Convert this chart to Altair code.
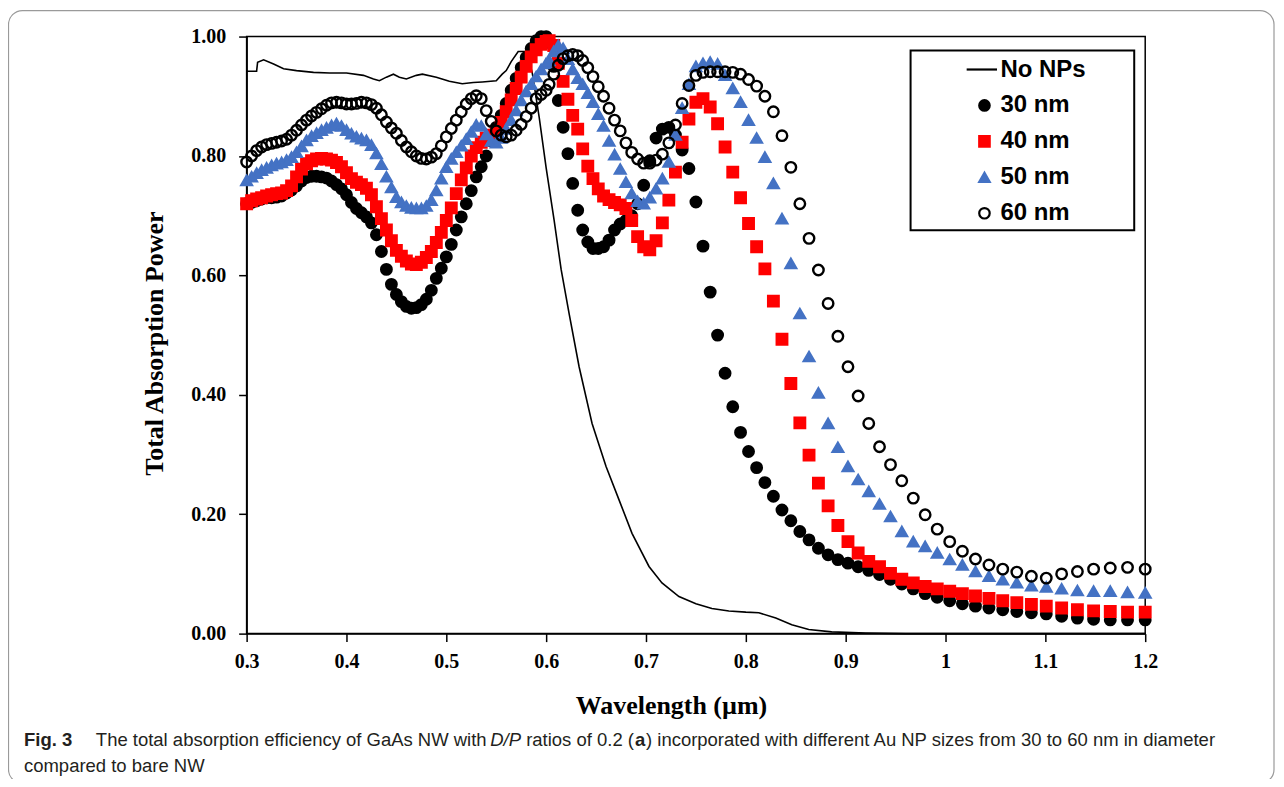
import altair as alt
import pandas as pd

# ---------------- data ----------------
series_names = ["No NPs", "30 nm", "40 nm", "50 nm", "60 nm"]
# legend/marker shapes; the "No NPs" entry is a long horizontal stroke
shape_range = ["M-3.4,0H2.4", "circle", "square", "triangle-up", "circle"]
fill_range = ["black", "black", "#ff0000", "#4472c4", "transparent"]
stroke_range = ["black", "black", "#ff0000", "#4472c4", "black"]

# shared wavelength samples (um) of the simulated spectra
wl_short = [0.300, 0.305, 0.310, 0.315, 0.320, 0.325, 0.330, 0.335, 0.340, 0.345,
            0.350, 0.355, 0.360, 0.365, 0.370, 0.375, 0.380, 0.385, 0.390, 0.395,
            0.400, 0.405, 0.410, 0.415, 0.420, 0.425, 0.430, 0.435, 0.440, 0.445,
            0.450, 0.455, 0.460, 0.465, 0.470, 0.475, 0.480, 0.485, 0.490, 0.495,
            0.500, 0.505, 0.510, 0.515, 0.520, 0.525, 0.530, 0.535, 0.540, 0.545,
            0.550, 0.555, 0.560, 0.565, 0.570, 0.575, 0.580, 0.585, 0.590, 0.595,
            0.600]
wl_long = [0.6030, 0.6076, 0.6122, 0.6170, 0.6218, 0.6266, 0.6316, 0.6366, 0.6417, 0.6469,
           0.6522, 0.6575, 0.6630, 0.6685, 0.6742, 0.6799, 0.6857, 0.6916, 0.6977, 0.7038,
           0.7101, 0.7164, 0.7229, 0.7295, 0.7362, 0.7430, 0.7500, 0.7571, 0.7643, 0.7717,
           0.7792, 0.7869, 0.7947, 0.8027, 0.8108, 0.8191, 0.8276, 0.8362, 0.8451, 0.8541,
           0.8633, 0.8727, 0.8824, 0.8922, 0.9023, 0.9125, 0.9231, 0.9339, 0.9449, 0.9562,
           0.9677, 0.9796, 0.9917, 1.0042, 1.0169, 1.0300, 1.0435, 1.0573, 1.0714, 1.0860,
           1.1009, 1.1163, 1.1321, 1.1483, 1.1650, 1.1823, 1.2000]

nm30_short = [0.720, 0.722, 0.725, 0.728, 0.730, 0.730, 0.731, 0.733, 0.738, 0.743,
              0.750, 0.758, 0.764, 0.766, 0.766, 0.765, 0.763, 0.758, 0.752, 0.745,
              0.735, 0.722, 0.712, 0.705, 0.698, 0.688, 0.668, 0.640, 0.610, 0.585,
              0.568, 0.556, 0.548, 0.545, 0.546, 0.551, 0.560, 0.575, 0.595, 0.612,
              0.631, 0.652, 0.676, 0.698, 0.720, 0.742, 0.765, 0.782, 0.800, 0.825,
              0.848, 0.868, 0.888, 0.910, 0.930, 0.948, 0.965, 0.980, 0.993, 1.000,
              1.000]
nm30_long = [0.990, 0.950, 0.893, 0.848, 0.804, 0.754, 0.709, 0.676, 0.656, 0.645,
             0.645, 0.648, 0.659, 0.676, 0.686, 0.692, 0.700, 0.720, 0.751, 0.792,
             0.830, 0.845, 0.848, 0.835, 0.810, 0.779, 0.723, 0.649, 0.572, 0.500,
             0.436, 0.380, 0.337, 0.305, 0.278, 0.253, 0.230, 0.207, 0.189, 0.171,
             0.157, 0.143, 0.132, 0.124, 0.118, 0.112, 0.106, 0.099, 0.091, 0.083,
             0.075, 0.067, 0.061, 0.055, 0.050, 0.046, 0.043, 0.040, 0.037, 0.035,
             0.033, 0.029, 0.026, 0.024, 0.023, 0.023, 0.023]

nm40_short = [0.720, 0.725, 0.728, 0.730, 0.733, 0.735, 0.737, 0.738, 0.742, 0.750,
              0.765, 0.778, 0.787, 0.792, 0.795, 0.796, 0.795, 0.793, 0.789, 0.782,
              0.772, 0.762, 0.756, 0.752, 0.746, 0.735, 0.715, 0.695, 0.676, 0.658,
              0.642, 0.632, 0.624, 0.619, 0.618, 0.622, 0.630, 0.640, 0.655, 0.672,
              0.692, 0.713, 0.737, 0.760, 0.780, 0.800, 0.814, 0.823, 0.830, 0.835,
              0.838, 0.856, 0.874, 0.894, 0.913, 0.932, 0.950, 0.966, 0.978, 0.987,
              0.992]
nm40_long = [0.993, 0.985, 0.955, 0.925, 0.895, 0.868, 0.845, 0.812, 0.783, 0.762,
             0.745, 0.733, 0.727, 0.722, 0.718, 0.712, 0.692, 0.665, 0.648, 0.643,
             0.658, 0.688, 0.726, 0.773, 0.823, 0.862, 0.890, 0.896, 0.882, 0.854,
             0.815, 0.773, 0.730, 0.687, 0.648, 0.611, 0.557, 0.493, 0.419, 0.353,
             0.299, 0.252, 0.214, 0.181, 0.154, 0.135, 0.121, 0.112, 0.101, 0.091,
             0.085, 0.079, 0.075, 0.071, 0.067, 0.063, 0.059, 0.055, 0.052, 0.049,
             0.046, 0.043, 0.040, 0.038, 0.037, 0.036, 0.036]

nm50_short = [0.759, 0.765, 0.771, 0.776, 0.780, 0.784, 0.787, 0.789, 0.793, 0.798,
              0.806, 0.816, 0.826, 0.833, 0.838, 0.843, 0.847, 0.851, 0.854, 0.850,
              0.843, 0.837, 0.832, 0.829, 0.826, 0.818, 0.804, 0.786, 0.765, 0.747,
              0.731, 0.722, 0.716, 0.713, 0.712, 0.712, 0.716, 0.726, 0.742, 0.762,
              0.781, 0.795, 0.806, 0.817, 0.828, 0.840, 0.852, 0.850, 0.836, 0.825,
              0.822, 0.830, 0.845, 0.860, 0.876, 0.893, 0.908, 0.920, 0.933, 0.945,
              0.955]
nm50_long = [0.960, 0.975, 0.985, 0.980, 0.962, 0.945, 0.930, 0.920, 0.905, 0.890,
             0.870, 0.850, 0.825, 0.802, 0.778, 0.756, 0.737, 0.724, 0.720, 0.730,
             0.745, 0.762, 0.790, 0.835, 0.880, 0.920, 0.950, 0.955, 0.957, 0.954,
             0.935, 0.913, 0.890, 0.860, 0.830, 0.798, 0.754, 0.695, 0.620, 0.536,
             0.464, 0.403, 0.352, 0.312, 0.280, 0.258, 0.238, 0.217, 0.196, 0.171,
             0.154, 0.146, 0.135, 0.124, 0.115, 0.104, 0.096, 0.090, 0.085, 0.080,
             0.078, 0.075, 0.072, 0.071, 0.071, 0.069, 0.068]

nm60_short = [0.790, 0.800, 0.809, 0.815, 0.819, 0.821, 0.823, 0.825, 0.828, 0.835,
              0.843, 0.852, 0.860, 0.867, 0.873, 0.879, 0.885, 0.889, 0.890, 0.889,
              0.887, 0.887, 0.888, 0.890, 0.889, 0.886, 0.880, 0.869, 0.857, 0.847,
              0.838, 0.826, 0.815, 0.807, 0.800, 0.796, 0.795, 0.798, 0.804, 0.817,
              0.832, 0.846, 0.860, 0.874, 0.887, 0.896, 0.901, 0.896, 0.876, 0.858,
              0.842, 0.835, 0.832, 0.835, 0.843, 0.853, 0.866, 0.880, 0.896, 0.903,
              0.910]
nm60_long = [0.920, 0.937, 0.952, 0.963, 0.968, 0.970, 0.968, 0.960, 0.948, 0.933,
             0.916, 0.900, 0.880, 0.860, 0.842, 0.822, 0.806, 0.795, 0.788, 0.788,
             0.793, 0.803, 0.822, 0.852, 0.888, 0.918, 0.935, 0.940, 0.941, 0.941,
             0.941, 0.940, 0.937, 0.928, 0.917, 0.900, 0.874, 0.834, 0.781, 0.720,
             0.662, 0.609, 0.553, 0.498, 0.447, 0.398, 0.352, 0.313, 0.283, 0.256,
             0.227, 0.199, 0.175, 0.154, 0.138, 0.125, 0.115, 0.108, 0.103, 0.096,
             0.093, 0.100, 0.104, 0.108, 0.110, 0.111, 0.108]

# bare nanowire (No NPs) curve
bare_wl = [0.300, 0.310, 0.311, 0.317, 0.327, 0.337, 0.350, 0.367, 0.383, 0.400,
           0.417, 0.427, 0.433, 0.440, 0.447, 0.453, 0.460, 0.470, 0.476, 0.490,
           0.503, 0.516, 0.527, 0.536, 0.550, 0.556, 0.560, 0.565, 0.572, 0.580,
           0.586, 0.593, 0.600, 0.608, 0.615, 0.623, 0.633, 0.646, 0.660, 0.673,
           0.686, 0.703, 0.716, 0.733, 0.750, 0.766, 0.783, 0.800, 0.813, 0.830,
           0.846, 0.863, 0.886, 0.920, 0.960, 1.200]
bare_val = [0.942, 0.942, 0.957, 0.961, 0.954, 0.946, 0.943, 0.940, 0.939, 0.939,
            0.935, 0.929, 0.926, 0.932, 0.937, 0.932, 0.929, 0.935, 0.937, 0.932,
            0.925, 0.921, 0.923, 0.924, 0.926, 0.937, 0.943, 0.958, 0.975, 0.975,
            0.940, 0.865, 0.780, 0.692, 0.610, 0.536, 0.447, 0.352, 0.280, 0.224,
            0.168, 0.1125, 0.085, 0.062, 0.050, 0.042, 0.038, 0.036, 0.035, 0.026,
            0.015, 0.007, 0.003, 0.001, 0.000, 0.000]

x_ticks = [0.3, 0.4, 0.5, 0.6, 0.7, 0.8, 0.9, 1.0, 1.1, 1.2]
y_ticks = [0.0, 0.2, 0.4, 0.6, 0.8, 1.0]

caption_bold = "Fig. 3"
caption_a = "The total absorption efficiency of GaAs NW with"
caption_dp = "D/P"
caption_b = "ratios of 0.2 ("
caption_sub = "a"
caption_c = ") incorporated with different Au NP sizes from 30 to 60 nm in diameter"
caption_line2 = "compared to bare NW"

# ---------------- tables ----------------
wavelength = wl_short + wl_long
rows = []
for name, vals in [("30 nm", nm30_short + nm30_long), ("40 nm", nm40_short + nm40_long),
                   ("50 nm", nm50_short + nm50_long), ("60 nm", nm60_short + nm60_long)]:
    assert len(vals) == len(wavelength), name
    for w, v in zip(wavelength, vals):
        rows.append({"wavelength": w, "value": v, "series": name})
pts = pd.DataFrame(rows)
bare = pd.DataFrame({"wavelength": bare_wl, "value": bare_val, "series": "No NPs"})

legend = alt.Legend(
    title=None, orient="none", legendX=727, legendY=21,
    labelFont="Liberation Sans", labelFontWeight="bold", labelFontSize=24,
    labelColor="black", symbolSize=110, symbolStrokeWidth=2.2,
    rowPadding=12, labelOffset=4, padding=0,
)
sc_shape = alt.Scale(domain=series_names, range=shape_range)
sc_fill = alt.Scale(domain=series_names, range=fill_range)
sc_stroke = alt.Scale(domain=series_names, range=stroke_range)

x_enc = alt.X("wavelength:Q",
              scale=alt.Scale(domain=[0.3, 1.2], nice=False, zero=False),
              axis=alt.Axis(values=x_ticks, format=".1~f", title="Wavelength (µm)",
                            labelPadding=10, labelFlush=False, labelOverlap=False,
                            titleX=425, titleY=72, titleBaseline="middle",
                            titleAnchor="start", titleAlign="center"))
y_enc = alt.Y("value:Q",
              scale=alt.Scale(domain=[0, 1], nice=False),
              axis=alt.Axis(values=y_ticks, format=".2f", title="Total Absorption Power",
                            labelPadding=13, labelFlush=False, labelOverlap=False,
                            titleX=-92, titleY=307, titleAngle=270,
                            titleBaseline="middle", titleAlign="center"))

line = alt.Chart(bare).mark_line(strokeWidth=1.6).encode(
    x=x_enc, y=y_enc,
    stroke=alt.Stroke("series:N", scale=sc_stroke, legend=legend),
)

points = alt.Chart(pts).mark_point(opacity=1, size=110, strokeWidth=2.4).encode(
    x=x_enc, y=y_enc,
    shape=alt.Shape("series:N", scale=sc_shape, legend=legend),
    fill=alt.Fill("series:N", scale=sc_fill, legend=legend),
    stroke=alt.Stroke("series:N", scale=sc_stroke, legend=legend),
)

one = alt.Data(values=[{"k": 1}])

legend_box = alt.Chart(one).mark_rect(fill="white", stroke="black", strokeWidth=2).encode(
    x=alt.value(665), x2=alt.value(889), y=alt.value(14), y2=alt.value(194))

frame = alt.Chart(one).mark_rect(fillOpacity=0, stroke="#9a9a9a", strokeWidth=1.2,
                                 cornerRadius=14).encode(
    x=alt.value(-238.5), x2=alt.value(1029), y=alt.value(-26), y2=alt.value(748))

cap_color = "#231f20"
cap_font = "Liberation Sans"
cap_size = 18.5


def cap(text, xpos, ypos, **kw):
    return alt.Chart(one).mark_text(text=text, align="left", baseline="middle",
                                    font=cap_font, fontSize=cap_size, color=cap_color,
                                    **kw).encode(x=alt.value(xpos), y=alt.value(ypos))


captions = [
    cap(caption_bold, -223, 705, fontWeight="bold"),
    cap(caption_a, -151, 705),
    cap(caption_dp, 244, 705, fontStyle="italic"),
    cap(caption_b, 280, 705),
    cap(caption_sub, 389, 705, fontWeight="bold"),
    cap(caption_c, 400, 705),
    cap(caption_line2, -223, 731),
]

chart = alt.layer(line, points, legend_box, frame, *captions).properties(
    width=900, height=598,
    autosize=alt.AutoSizeParams(type="none"),
    padding={"left": 239, "top": 28, "right": 131, "bottom": 145},
).configure_view(stroke="black", strokeWidth=1.5).configure_axis(
    grid=False, domainColor="black", domainWidth=1.5, tickColor="black",
    tickWidth=1.5, tickSize=8,
    labelFont="Liberation Serif", labelFontWeight="bold", labelFontSize=20,
    labelColor="black",
    titleFont="Liberation Serif", titleFontWeight="bold", titleFontSize=26,
    titleColor="black",
)

chart.save("out.html", embed_options={"renderer": "svg", "actions": False})
